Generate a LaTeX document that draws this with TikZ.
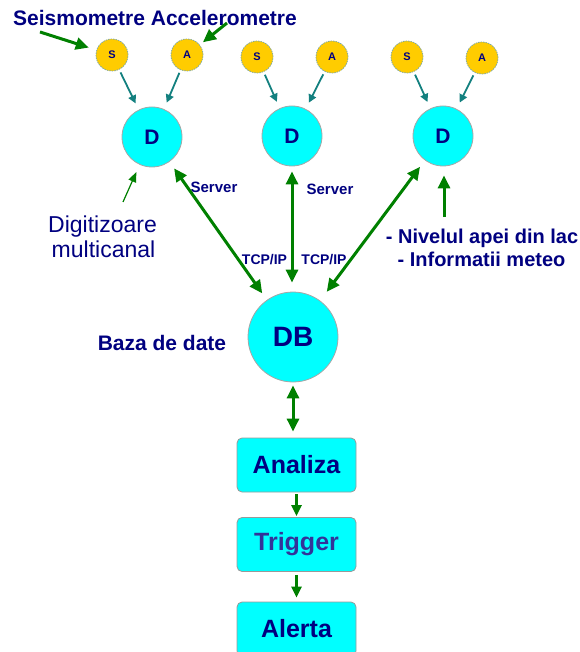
\documentclass[tikz,border=0pt]{standalone}
\usepackage{fontspec}
\setmainfont{Liberation Sans}
\usetikzlibrary{arrows.meta}
\definecolor{navy}{HTML}{000080}
\definecolor{trig}{HTML}{333399}
\definecolor{gold}{HTML}{FFCC00}
\definecolor{greenc}{HTML}{008000}
\definecolor{tealc}{HTML}{13807F}
\definecolor{sensorborder}{HTML}{7FA8A0}
\definecolor{cyanc}{HTML}{00FFFF}
\tikzset{
  sensor/.style={circle, fill=gold, draw=sensorborder, dash pattern=on 1.5pt off 1pt, line width=0.8pt,
    minimum size=32pt, inner sep=0pt, text=navy, font=\bfseries\fontsize{11}{13}\selectfont},
  digit/.style={circle, fill=cyanc, draw=gray!70, line width=0.8pt, minimum size=60pt, inner sep=0pt,
    text=navy, font=\bfseries\fontsize{21}{25}\selectfont},
  dbnode/.style={circle, fill=cyanc, draw=gray!70, line width=0.8pt, minimum size=90pt, inner sep=0pt,
    text=navy, font=\bfseries\fontsize{28}{32}\selectfont},
  stepbox/.style={rectangle, rounded corners=5pt, fill=cyanc, draw=gray!80, line width=0.8pt,
    minimum width=119pt, minimum height=54pt, inner sep=0pt, text=navy, font=\bfseries\fontsize{25}{29}\selectfont},
  lbl/.style={inner sep=0pt, text=navy},
  tealarrow/.style={draw=tealc, line width=1.8pt, -{Triangle[length=8pt,width=8pt]}},
  greenarrow/.style={draw=greenc, line width=3pt, -{Triangle[length=13pt,width=12pt]}},
  greendouble/.style={draw=greenc, line width=3pt, {Triangle[length=13pt,width=12pt]}-{Triangle[length=13pt,width=12pt]}},
  thinarrow/.style={draw=greenc, line width=1.2pt, -{Triangle[length=10pt,width=8pt]}},
  boxarrow/.style={draw=greenc, line width=2.8pt, -{Triangle[length=11pt,width=10pt]}}
}
\begin{document}
\begin{tikzpicture}[x=1pt,y=-1pt]
\useasboundingbox (0,0) rectangle (579,652);
\clip (0,0) rectangle (579,652);

% sensors
\node[sensor] (s1) at (112,55) {S};
\node[sensor] (a1) at (187,55) {A};
\node[sensor] (s2) at (257,57) {S};
\node[sensor] (a2) at (332,57) {A};
\node[sensor] (s3) at (407,57) {S};
\node[sensor] (a3) at (482,58) {A};

% digitizers
\node[digit] (d1) at (152,137) {D};
\node[digit] (d2) at (292,136) {D};
\node[digit] (d3) at (443,136) {D};

% database
\node[dbnode] (db) at (293,337) {DB};

% boxes
\node[stepbox] (an) at (296.5,465) {Analiza};
\node[stepbox, text=trig] (tr) at (296.5,544.5) {Trigger};
\node[stepbox] (al) at (296.5,629) {Alerta};

% texts
\node[lbl, anchor=base west, font=\bfseries\fontsize{21}{25}\selectfont] (title) at (13,26) {Seismometre Accelerometre};
\node[lbl, anchor=base, font=\fontsize{23}{25}\selectfont] (dig1) at (102.5,232) {Digitizoare};
\node[lbl, anchor=base, font=\fontsize{23}{25}\selectfont] (dig2) at (103.5,257) {multicanal};
\node[lbl, anchor=base, font=\bfseries\fontsize{21}{25}\selectfont] (baza) at (162,350) {Baza de date};
\node[lbl, anchor=base, font=\bfseries\fontsize{20}{23}\selectfont] (niv1) at (482,243) {- Nivelul apei din lac};
\node[lbl, anchor=base, font=\bfseries\fontsize{20}{23}\selectfont] (niv2) at (481.5,266) {- Informatii meteo};
\node[lbl, anchor=base, font=\bfseries\fontsize{15}{17}\selectfont] (srv1) at (214,193) {Server};
\node[lbl, anchor=base, font=\bfseries\fontsize{15}{17}\selectfont] (srv2) at (330,195) {Server};
\node[lbl, anchor=base, font=\bfseries\fontsize{14}{16}\selectfont] (tcp1) at (264.5,264) {TCP/IP};
\node[lbl, anchor=base, font=\bfseries\fontsize{14}{16}\selectfont] (tcp2) at (324,264) {TCP/IP};

% sensor -> digitizer
\draw[tealarrow, shorten <=3pt, shorten >=7pt] (s1) -- (d1);
\draw[tealarrow, shorten <=3pt, shorten >=7pt] (a1) -- (d1);
\draw[tealarrow, shorten <=3pt, shorten >=7pt] (s2) -- (d2);
\draw[tealarrow, shorten <=3pt, shorten >=7pt] (a2) -- (d2);
\draw[tealarrow, shorten <=3pt, shorten >=7pt] (s3) -- (d3);
\draw[tealarrow, shorten <=3pt, shorten >=7pt] (a3) -- (d3);

% label pointers
\coordinate (seisTail) at (40,32);
\coordinate (accTail) at (227,23);
\coordinate (digTail) at (123,202);
\coordinate (nivTail) at (444,217);
\draw[greenarrow, shorten >=8pt] (seisTail) -- (s1);
\draw[greenarrow, shorten >=4pt] (accTail) -- (a1);
\draw[thinarrow, shorten >=8pt] (digTail) -- (d1);
\draw[greenarrow, shorten >=9pt] (nivTail) -- (nivTail |- d3.south);

% digitizers <-> database
\draw[greendouble, shorten <=8pt, shorten >=8pt] (d1) -- (db);
\draw[greendouble, shorten <=5pt, shorten >=9pt] (d2) -- (d2 |- db.north);
\draw[greendouble, shorten <=8pt, shorten >=11pt] (d3) -- (db);

% database -> boxes
\draw[greendouble, shorten <=3pt, shorten >=6pt] (db) -- (db |- an.north);
\draw[boxarrow, shorten <=2pt, shorten >=1pt] (an) -- (an |- tr.north);
\draw[boxarrow, shorten <=3pt, shorten >=4pt] (tr) -- (tr |- al.north);
\end{tikzpicture}
\end{document}
